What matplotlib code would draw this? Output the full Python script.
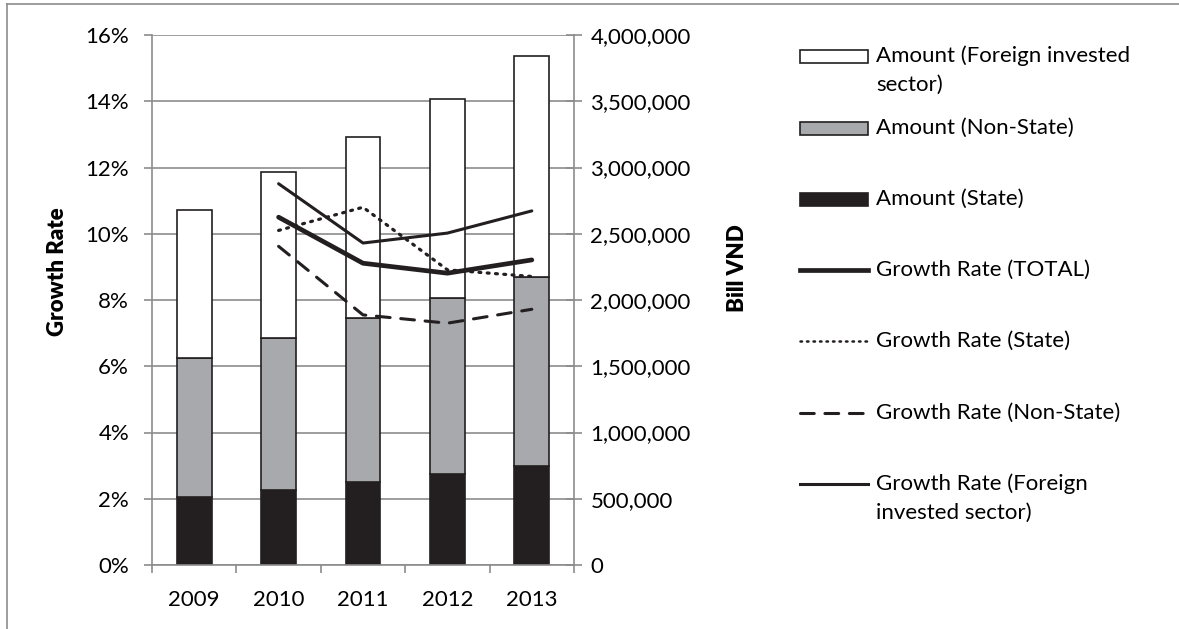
import numpy as np
import matplotlib
matplotlib.use("Agg")
import matplotlib.pyplot as plt
from matplotlib.patches import Rectangle
from matplotlib.lines import Line2D
from matplotlib.ticker import FuncFormatter, MultipleLocator

plt.rcParams['font.family'] = ['Lato', 'DejaVu Sans']

# amounts, bill VND
years = ['2009', '2010', '2011', '2012', '2013']
amount_state = [513000, 566000, 629000, 684000, 745000]
amount_non_state = [1047000, 1145000, 1233000, 1329000, 1431000]
amount_foreign = [1119000, 1253000, 1370000, 1504000, 1668000]

# growth rates in percent (no 2009 value)
growth_years = ['2010', '2011', '2012', '2013']
growth_total = [10.50, 9.11, 8.81, 9.21]
growth_state = [10.10, 10.80, 8.91, 8.71]
growth_non_state = [9.62, 7.55, 7.30, 7.72]
growth_foreign = [11.51, 9.72, 10.02, 10.69]

W, H = 1179, 629
FS = 16
GRID = '#8c8c8c'
INK = '#231f20'
GREY_BAR = '#a7a9ac'
DOTS = (0, (0.6, 2.0))
DASHES = (0, (4.5, 3.5))

fig = plt.figure(figsize=(W / 100, H / 100), dpi=100)
ax = fig.add_axes([152 / W, 1 - 565 / H, 422 / W, 530 / H])
ax2 = ax.twinx()

x = np.arange(len(years))
state = np.array(amount_state)
non_state = np.array(amount_non_state)
foreign = np.array(amount_foreign)
bw = 0.41
ax.bar(x, state, bw, color=INK, edgecolor=INK, linewidth=1.2, zorder=2)
ax.bar(x, non_state, bw, bottom=state, color=GREY_BAR, edgecolor=INK, linewidth=1.2, zorder=2)
ax.bar(x, foreign, bw, bottom=state + non_state, color='white', edgecolor=INK, linewidth=1.2, zorder=2)

# bar axis: amounts on the right
ax.set_xlim(-0.5, len(years) - 0.5)
ax.set_ylim(0, 4000000)
ax.yaxis.set_major_locator(MultipleLocator(500000))
ax.yaxis.set_major_formatter(FuncFormatter(lambda v, p: f'{v:,.0f}'))
ax.yaxis.tick_right()
ax.tick_params(axis='y', direction='inout', length=11.5, width=1.2, color=GRID,
               labelsize=FS, pad=6)
ax.set_xticks(x)
ax.set_xticklabels(years, fontsize=FS)
ax.set_xticks(np.arange(-0.5, len(years)), minor=True)
ax.tick_params(axis='x', which='major', length=0, pad=18)
ax.tick_params(axis='x', which='minor', length=5.5, width=1.2, color=GRID)
ax.grid(axis='y', color=GRID, linewidth=1.2, zorder=0)
ax.set_axisbelow(True)
for side in ['left', 'right', 'bottom']:
    ax.spines[side].set_color(GRID)
    ax.spines[side].set_linewidth(1.2)
ax.spines['top'].set_visible(False)

# growth lines on the twin axis, ticks on the left
ax2.set_ylim(0, 16)
ax2.yaxis.set_major_locator(MultipleLocator(2))
ax2.yaxis.set_major_formatter(FuncFormatter(lambda v, p: f'{v:.0f}%'))
ax2.yaxis.tick_left()
ax2.tick_params(axis='y', direction='out', length=5.5, width=1.2, color=GRID,
                labelsize=FS, pad=11)
for s in ax2.spines.values():
    s.set_visible(False)

gx = [years.index(y) for y in growth_years]
ax2.plot(gx, growth_foreign, color=INK, lw=2.2, solid_capstyle='round')
ax2.plot(gx, growth_total, color=INK, lw=3.4, solid_capstyle='round')
ax2.plot(gx, growth_state, color=INK, lw=2.3, linestyle=DOTS, dash_capstyle='round')
ax2.plot(gx, growth_non_state, color=INK, lw=2.2, linestyle=DASHES, dash_capstyle='round')

# overlay in pixel units for the legend, axis titles and frame
ov = fig.add_axes([0, 0, 1, 1])
ov.set_xlim(0, W)
ov.set_ylim(H, 0)
ov.axis('off')

ov.add_line(Line2D([7, 7], [4, H], color=GRID, lw=1.2))
ov.add_line(Line2D([7, W], [4, 4], color=GRID, lw=1.2))

ov.text(57, 272, 'Growth Rate', rotation=90, fontsize=FS, fontweight='heavy',
        ha='center', va='center')
ov.text(737, 268, 'Bill VND', rotation=90, fontsize=FS, fontweight='heavy',
        ha='center', va='center')

hx0, hx1, tx = 800, 868, 876
legend_items = [
    ('patch', 'white', ['Amount (Foreign invested', 'sector)'], 56),
    ('patch', GREY_BAR, ['Amount (Non-State)'], 128),
    ('patch', INK, ['Amount (State)'], 199),
    ('line', dict(lw=3.4), ['Growth Rate (TOTAL)'], 270),
    ('line', dict(lw=1.8, linestyle=DOTS, dash_capstyle='round'),
     ['Growth Rate (State)'], 341),
    ('line', dict(lw=2.2, linestyle=DASHES, dash_capstyle='round'),
     ['Growth Rate (Non-State)'], 413),
    ('line', dict(lw=2.2), ['Growth Rate (Foreign', 'invested sector)'], 484),
]
for kind, style, lines, y in legend_items:
    if kind == 'patch':
        ov.add_patch(Rectangle((hx0, y - 6), hx1 - hx0, 12.5, facecolor=style,
                               edgecolor=INK, lw=1.2))
    else:
        ov.add_line(Line2D([hx0, hx1], [y, y], color=INK, **style))
    for i, t in enumerate(lines):
        ov.text(tx, y + i * 29, t, fontsize=FS, ha='left', va='center')

fig.savefig('out.png', dpi=100)
